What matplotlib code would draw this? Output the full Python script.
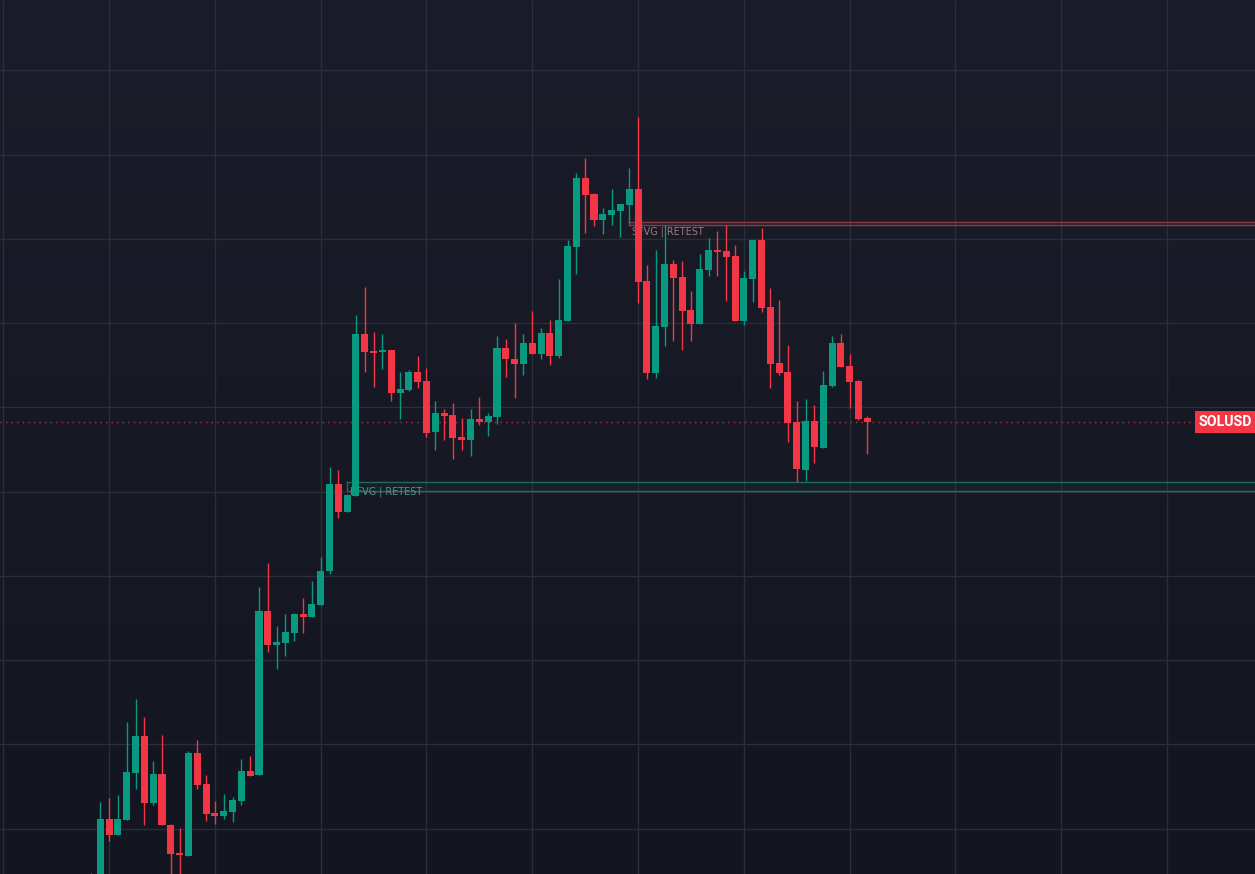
import matplotlib
matplotlib.use("Agg")
import matplotlib.pyplot as plt
import numpy as np
from matplotlib.colors import LinearSegmentedColormap

# ---------------- data (SOLUSD candles, oldest -> newest) ----------------
opens = [139.57, 140.46, 145.56, 144.63, 145.52, 148.31, 150.49, 146.53, 148.24, 145.21,
         143.56, 143.39, 149.48, 147.64, 145.92, 145.76, 146.00, 146.65, 148.41, 148.19,
         157.91, 155.91, 156.03, 156.62, 157.73, 157.57, 158.28, 160.30, 165.45, 163.80,
         164.75, 174.35, 173.36, 173.30, 173.40, 170.87, 171.04, 172.09, 171.56, 168.55,
         169.66, 169.54, 168.25, 168.08, 169.30, 169.14, 169.44, 173.52, 172.87, 172.59,
         173.82, 173.18, 174.41, 173.06, 175.14, 179.53, 183.61, 182.66, 181.13, 181.43,
         181.67, 182.02, 182.96, 177.50, 172.05, 174.78, 178.52, 177.75, 175.79, 174.96,
         178.17, 179.35, 179.29, 179.00, 175.14, 177.63, 179.95, 175.97, 172.65, 172.09,
         169.14, 166.30, 169.19, 167.60, 171.28, 173.82, 172.47, 171.58, 169.38]
highs = [142.36, 146.57, 146.81, 146.99, 151.32, 152.69, 151.62, 149.01, 150.55, 145.27,
         145.03, 149.60, 150.25, 148.18, 146.63, 147.05, 146.87, 149.13, 149.30, 159.33,
         160.76, 157.02, 157.73, 157.79, 158.68, 159.69, 161.11, 166.46, 166.28, 164.85,
         175.48, 177.14, 174.47, 174.35, 173.40, 172.09, 172.21, 173.04, 172.33, 170.37,
         169.90, 170.25, 169.36, 169.90, 170.61, 169.66, 174.23, 174.05, 175.00, 174.35,
         175.71, 174.71, 175.18, 177.61, 179.93, 183.90, 184.80, 182.72, 181.83, 182.96,
         182.07, 184.20, 187.23, 178.46, 179.35, 180.82, 178.76, 178.70, 176.92, 179.11,
         180.06, 180.48, 180.84, 179.65, 178.11, 179.95, 180.66, 177.10, 176.38, 173.70,
         170.37, 170.49, 170.14, 172.15, 174.23, 174.35, 173.18, 171.64, 169.50]
lows = [138.98, 139.87, 144.28, 144.63, 145.52, 147.36, 145.23, 146.41, 145.23, 141.65,
        141.35, 143.39, 147.36, 145.46, 145.29, 145.58, 145.40, 146.41, 148.13, 148.19,
        155.49, 154.49, 155.26, 156.15, 156.62, 157.57, 158.28, 160.12, 163.43, 163.80,
        164.75, 172.11, 171.22, 172.29, 170.39, 169.32, 170.98, 171.16, 168.25, 167.48,
        168.08, 166.95, 167.48, 167.13, 168.97, 168.31, 169.03, 171.82, 170.57, 171.93,
        173.18, 172.88, 172.53, 172.94, 175.14, 177.93, 180.36, 180.78, 180.30, 180.84,
        180.12, 180.96, 176.21, 171.70, 171.76, 173.66, 173.95, 173.42, 173.95, 174.96,
        177.81, 177.81, 176.33, 175.14, 174.90, 176.27, 175.67, 171.16, 171.93, 167.96,
        165.58, 165.64, 166.71, 167.60, 171.22, 172.41, 169.98, 169.26, 167.25]
closes = [141.65, 145.56, 144.63, 145.56, 148.35, 150.49, 146.53, 148.24, 145.23, 143.51,
          143.41, 149.48, 147.60, 145.88, 145.76, 146.04, 146.69, 148.41, 148.13, 157.91,
          155.91, 156.07, 156.66, 157.73, 157.57, 158.32, 160.28, 165.45, 163.80, 164.79,
          174.35, 173.30, 173.24, 173.42, 170.87, 171.09, 172.09, 171.52, 168.49, 169.66,
          169.50, 168.19, 168.08, 169.30, 169.14, 169.48, 173.52, 172.88, 172.59, 173.82,
          173.18, 174.41, 173.06, 175.18, 179.57, 183.61, 182.62, 181.13, 181.47, 181.71,
          182.07, 182.96, 177.45, 172.05, 174.82, 178.52, 177.69, 175.73, 174.96, 178.22,
          179.35, 179.23, 178.94, 175.14, 177.69, 179.95, 175.91, 172.59, 172.05, 169.08,
          166.35, 169.19, 167.66, 171.32, 173.82, 172.41, 171.52, 169.32, 169.14]
first_index = -1

bear_fvg = (180.80, 180.98, 60)   # bottom, top, start candle
bull_fvg = (165.01, 165.55, 28)
bear_label = "SFVG | RETEST"
bull_label = "BFVG | RETEST"
symbol = "SOLUSD"

# ---------------- style ----------------
UP = "#089981"
DOWN = "#F23645"
W, H = 1255, 874
fig = plt.figure(figsize=(W / 100, H / 100), dpi=100)
ax = fig.add_axes([0, 0, 1, 1])

spacing = 8.816
x0_px = 100.3
xmin = -x0_px / spacing
xmax = (W - x0_px) / spacing
ymax, ymin = 194.17, 142.30
ax.set_xlim(xmin, xmax)
ax.set_ylim(ymin, ymax)

# background gradient
cmap = LinearSegmentedColormap.from_list("bg", ["#1a1d29", "#131620"])
grad = np.linspace(0, 1, 256).reshape(-1, 1)
ax.imshow(grad, extent=[xmin, xmax, ymin, ymax], aspect="auto", cmap=cmap,
          origin="upper", zorder=0)

# grid
for gx in range(-11, 132, 12):
    ax.axvline(gx, color="#2a2d3a", lw=1, zorder=1)
for gy in np.arange(145, 195, 5):
    ax.axhline(gy, color="#2a2d3a", lw=1, zorder=1)

# FVG zones
b0, b1, bs = bear_fvg
ax.fill_between([bs, xmax + 1], b0, b1, color="#F23645", alpha=0.06, lw=0, zorder=2)
ax.plot([bs, xmax + 1], [b1, b1], color="#8c3a44", lw=1, zorder=2)
ax.plot([bs, xmax + 1], [b0, b0], color="#8c3a44", lw=1, zorder=2)
ax.plot([bs, bs], [b0, b1], color="#8c3a44", lw=1, zorder=2)
ax.text(bs + 0.3, b0 - 0.36, bear_label, color="#a27a7e", fontsize=6.9,
        family="DejaVu Sans", va="center", ha="left", zorder=2)

g0, g1, gs = bull_fvg
ax.fill_between([gs, xmax + 1], g0, g1, color="#089981", alpha=0.06, lw=0, zorder=2)
ax.plot([gs, xmax + 1], [g1, g1], color="#1f6b5e", lw=1, zorder=2)
ax.plot([gs, xmax + 1], [g0, g0], color="#1f6b5e", lw=1, zorder=2)
ax.plot([gs, gs], [g0, g1], color="#1f6b5e", lw=1, zorder=2)
ax.text(gs + 0.3, g0 + 0.0, bull_label, color="#579488", fontsize=6.9,
        family="DejaVu Sans", va="center", ha="left", zorder=2)

# candles
n = len(opens)
xs = np.arange(first_index, first_index + n)
o = np.array(opens); h = np.array(highs); l = np.array(lows); c = np.array(closes)
colors = [UP if ci >= oi else DOWN for oi, ci in zip(o, c)]
ax.vlines(xs, l, h, colors=colors, lw=1, zorder=3)
bottoms = np.minimum(o, c)
heights = np.maximum(np.abs(c - o), 0.06)
ax.bar(xs, heights, bottom=bottoms, width=0.8, color=colors, lw=0, zorder=4)

# last price line + label
last = closes[-1]
ax.axhline(last, color=DOWN, lw=1, ls=(0, (1, 3)), alpha=0.75, zorder=2)
ax.text(xmax - 0.3, last, symbol, color="white", fontsize=10.2, fontweight="bold",
        family="Roboto", ha="right", va="center", zorder=6,
        bbox=dict(boxstyle="square,pad=0.3", fc=DOWN, ec="none"))

ax.axis("off")
fig.savefig("out.png", dpi=100)
